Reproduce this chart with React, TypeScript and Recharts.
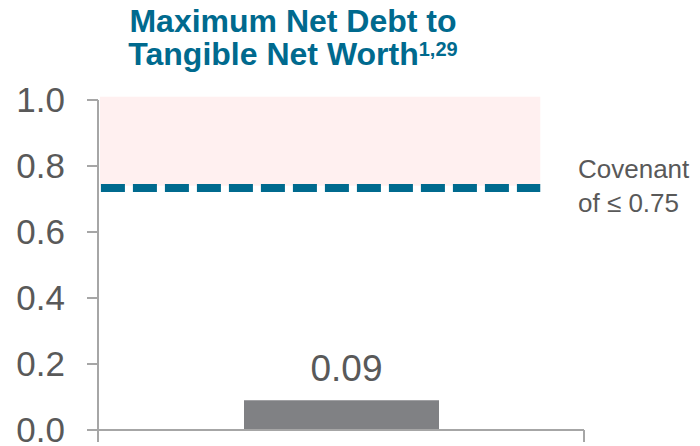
import React from 'react';
import {
  BarChart, Bar, XAxis, YAxis, ReferenceArea, ReferenceLine, LabelList,
} from 'recharts';

// single category, placed in the middle of a 0..1 x range
const categories = ['Net Debt to Tangible Net Worth'];
const categoryPos = [0.5];
const values = [0.09];
const yTicks = [0, 0.2, 0.4, 0.6, 0.8, 1.0];
const covenantLine = 0.733;
const covenantZone = [0.74, 1.01];
const zoneEnd = 0.91;

const data = categories.map((name, i) => ({ name, pos: categoryPos[i], value: values[i] }));

const FONT = '"Liberation Sans", Arial, sans-serif';
const GRAY_TEXT = '#595959';
const TEAL = '#006A8E';
const AXIS = '#A6A6A6';

const BarValueLabel = (props: any) => {
  const { x, y, width, value } = props;
  return (
    <text
      x={x + width / 2 + 5}
      y={y - 19}
      textAnchor="middle"
      fill={GRAY_TEXT}
      fontSize={37}
      fontFamily={FONT}
    >
      {Number(value).toFixed(2)}
    </text>
  );
};

export default function App() {
  return (
    <div style={{ position: 'absolute', left: 0, top: 0, width: 700, height: 446, fontFamily: FONT }}>
      <div
        style={{
          position: 'absolute', left: 93, top: 5, width: 400, textAlign: 'center',
          fontSize: 32, lineHeight: '33px', fontWeight: 'bold', color: TEAL, whiteSpace: 'nowrap',
        }}
      >
        Maximum Net Debt to
        <br />
        Tangible Net Worth
        <span style={{ fontSize: 20, position: 'relative', top: -9 }}>1,29</span>
      </div>
      <div
        style={{
          position: 'absolute', left: 578, top: 152, fontSize: 26, lineHeight: '34px',
          color: GRAY_TEXT, whiteSpace: 'nowrap',
        }}
      >
        Covenant
        <br />
        of ≤ 0.75
      </div>
      <BarChart
        width={700}
        height={446}
        data={data}
        margin={{ top: 100, right: 116, left: 0, bottom: 0 }}
      >
        <XAxis
          dataKey="pos"
          type="number"
          domain={[0, 1]}
          ticks={[0, 1]}
          allowDataOverflow
          height={16}
          tickSize={12}
          tickFormatter={() => ''}
          axisLine={{ stroke: AXIS, strokeWidth: 2 }}
          tickLine={{ stroke: AXIS, strokeWidth: 2 }}
        />
        <YAxis
          domain={[0, 1]}
          ticks={yTicks}
          interval={0}
          width={98}
          tickSize={11}
          tickMargin={22}
          tickFormatter={(v: number) => v.toFixed(1)}
          tick={{ fill: GRAY_TEXT, fontSize: 35, fontFamily: FONT }}
          axisLine={{ stroke: AXIS, strokeWidth: 2 }}
          tickLine={{ stroke: AXIS, strokeWidth: 2 }}
        />
        <ReferenceArea
          x1={0.004}
          x2={zoneEnd}
          y1={covenantZone[0]}
          y2={covenantZone[1]}
          fill="#FFF0F0"
          fillOpacity={1}
          stroke="none"
          ifOverflow="visible"
        />
        <ReferenceLine
          segment={[{ x: 0.006, y: covenantLine }, { x: zoneEnd, y: covenantLine }]}
          stroke={TEAL}
          strokeWidth={8}
          strokeDasharray="24 8"
          ifOverflow="visible"
        />
        <Bar dataKey="value" fill="#808184" barSize={195} isAnimationActive={false}>
          <LabelList dataKey="value" content={<BarValueLabel />} />
        </Bar>
      </BarChart>
    </div>
  );
}
